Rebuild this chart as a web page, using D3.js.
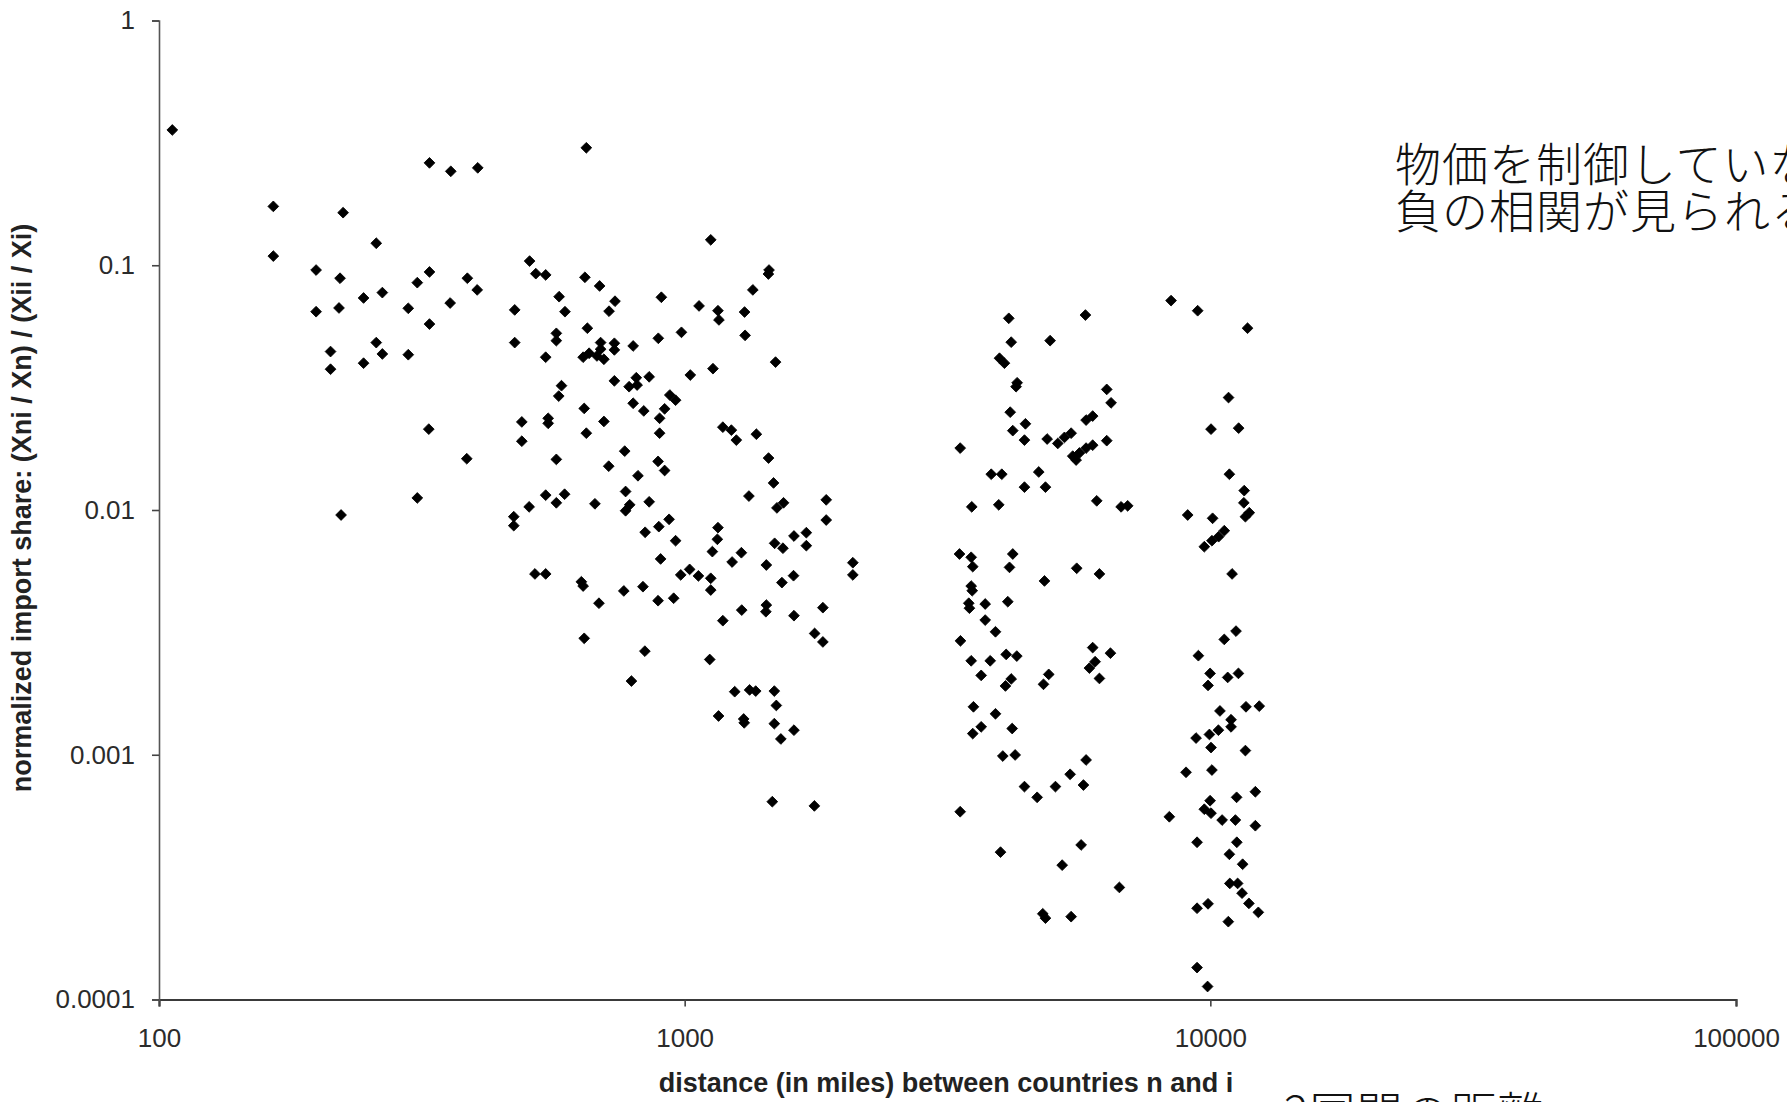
<!DOCTYPE html>
<html>
<head>
<meta charset="utf-8">
<script src="https://cdn.jsdelivr.net/npm/d3@7"></script>
<style>
  html, body { margin: 0; padding: 0; background: #fff; overflow: hidden; }
  svg { display: block; }
</style>
</head>
<body>
<svg id="scatter" width="1787" height="1102"></svg>
<script>
// distance (miles) between countries n and i
const distance = [
  106, 327, 359, 404, 165, 224, 259, 165, 507, 521, 199, 221, 327, 310, 386, 403, 266, 245, 298, 358,
  199, 220, 475, 327, 259, 266, 212, 212, 245, 298, 475, 490, 490, 326, 385, 310, 222, 506, 473, 473,
  650, 1121, 1447, 1443, 544, 646, 689, 577, 592, 737, 718, 903, 1065, 1157, 1162, 1348, 1300, 1303, 653, 570,
  570, 641, 658, 681, 702, 692, 692, 735, 735, 544, 798, 891, 986, 1489, 1132, 1025, 735, 809, 784, 812,
  856, 583, 576, 937, 961, 798, 836, 644, 916, 896, 550, 550, 702, 650, 896, 1182, 1227, 1254, 1369, 570,
  769, 717, 890, 916, 815, 1444, 1476, 1325, 1542, 1498, 1859, 1859, 544, 591, 570, 675, 772, 786, 772, 856,
  934, 893, 841, 961, 1157, 1154, 1129, 1282, 1483, 1538, 1614, 1704, 1704, 900, 1231, 1430, 2089,
  544, 519, 636, 641, 687, 766, 833, 890, 953, 983, 1022, 1062, 1121, 1121, 1611, 1531, 2089, 1182, 1284, 1430,
  1427, 1614, 1832, 1767, 1832, 644, 840, 1116, 792, 1245, 1329, 1365, 1481, 1494, 1160, 1295, 1298, 1481, 1614, 1524,
  1468, 1765,
  8420, 9460, 11770, 4136, 5786, 4180, 4957, 3971, 4058, 4290, 4270, 6352, 6474, 4162, 4449, 4209, 4430, 4893, 5973, 5803,
  5435, 5278, 5126, 5973, 5803, 5636, 5473, 5555, 6352, 3343, 3830, 4011, 4716, 4430, 4857, 3517, 3958, 6080, 6765, 6962,
  10830, 10030, 11320, 10870, 11600, 11580, 11860, 11660, 9056, 10100, 10630, 10370, 10070, 9740, 3333, 3508, 4209,
  3532, 4149, 5569, 6152, 4836, 3508, 3524, 3471, 3481, 3730, 4118, 3730, 3902, 3347, 3508, 3813, 4089, 4284, 3665, 4180,
  4076, 4927, 4815, 5973, 6456, 6037, 5888, 6152, 3543, 3902, 3665, 3532, 4198, 4029, 4253, 5803, 5411, 5736, 5074, 4430,
  4683, 3343, 3989, 5678, 5226, 6714, 4800, 4857, 5435,
  11000, 11190, 10630, 9490, 9990, 9900, 10790, 11310, 10430, 11690, 12390, 10950, 10950, 10360, 9960, 9394, 10030, 11660, 8990, 10070,
  12180, 11220, 9990, 9740, 10030, 10530, 11160, 12180, 8356, 9435, 11230, 10870, 11520, 10890, 11270, 11490, 11840, 12340, 9435, 9900,
  10820, 9435, 9880
];

// normalized import share: (Xni / Xn) / (Xii / Xi)
const share = [
  0.357, 0.262, 0.242, 0.250, 0.174, 0.164, 0.123, 0.109, 0.104, 0.0924, 0.0956, 0.0885, 0.0939, 0.0849, 0.0885, 0.0793, 0.0773, 0.0735, 0.0667, 0.0701,
  0.0646, 0.0669, 0.0657, 0.0575, 0.0483, 0.0434, 0.0444, 0.0376, 0.0398, 0.0431, 0.0483, 0.0229, 0.0191, 0.0214, 0.0162, 0.0112, 0.00954, 0.0103, 0.00939, 0.00863,
  0.302, 0.127, 0.0956, 0.0921, 0.0913, 0.0893, 0.0823, 0.0744, 0.0646, 0.0713, 0.0649, 0.0740, 0.0682, 0.0652, 0.0598, 0.0793, 0.0644, 0.0517, 0.0553, 0.0527,
  0.0492, 0.0421, 0.0437, 0.0426, 0.0413, 0.0483, 0.0454, 0.0480, 0.0451, 0.0421, 0.0468, 0.0503, 0.0532, 0.0402, 0.0378, 0.0356, 0.0337, 0.0347, 0.0319, 0.0324,
  0.0350, 0.0322, 0.0292, 0.0295, 0.0281, 0.0273, 0.0254, 0.0260, 0.0259, 0.0237, 0.0237, 0.0226, 0.0230, 0.0206, 0.0206, 0.0218, 0.0212, 0.0193, 0.0204, 0.0161,
  0.0174, 0.0151, 0.0158, 0.0145, 0.0138, 0.0163, 0.0129, 0.0114, 0.0107, 0.0102, 0.0110, 0.0091, 0.0115, 0.0116, 0.0107, 0.0106, 0.0119, 0.0105, 0.00993, 0.0108,
  0.00916, 0.00855, 0.00811, 0.00749, 0.00847, 0.00759, 0.00676, 0.00669, 0.00731, 0.00698, 0.00783, 0.00808, 0.00715, 0.00631, 0.00613, 0.00596, 0.00609,
  0.00548, 0.00548, 0.00509, 0.00489, 0.00416, 0.00467, 0.00486, 0.00426, 0.00436, 0.00543, 0.00572, 0.00538, 0.00526, 0.00471, 0.00539, 0.00505, 0.00543, 0.00353, 0.00390, 0.00409,
  0.00384, 0.00370, 0.00399, 0.00313, 0.00289, 0.00299, 0.00265, 0.00245, 0.00200, 0.00181, 0.00184, 0.00182, 0.00182, 0.00159, 0.00144, 0.00140, 0.00135, 0.00134, 0.00126, 0.00116,
  0.000643, 0.000618,
  0.0717, 0.0652, 0.0553, 0.0607, 0.0626, 0.0485, 0.0492, 0.0417, 0.0398, 0.0331, 0.0319, 0.0311, 0.0274, 0.0251, 0.0225, 0.0211, 0.0193, 0.0195, 0.0242, 0.0233,
  0.0206, 0.0198, 0.0187, 0.0184, 0.0179, 0.0171, 0.0166, 0.0160, 0.0192, 0.0179, 0.0140, 0.0140, 0.0143, 0.0124, 0.0124, 0.0103, 0.0105, 0.0109, 0.0103, 0.0104,
  0.0288, 0.0214, 0.0216, 0.0140, 0.0120, 0.0107, 0.00975, 0.00939, 0.00954, 0.00925, 0.00823, 0.00778, 0.00749, 0.00708, 0.00661, 0.00641, 0.00661,
  0.00587, 0.00583, 0.00578, 0.00548, 0.00513, 0.00489, 0.00468, 0.00416, 0.00397, 0.00413, 0.00422, 0.00355, 0.00318, 0.00292, 0.00242, 0.00242, 0.00257, 0.00253, 0.00211, 0.00204,
  0.00191, 0.00213, 0.00194, 0.00274, 0.00260, 0.00240, 0.00226, 0.00205, 0.00157, 0.00147, 0.00130, 0.00122, 0.00128, 0.000988, 0.000998, 0.000952, 0.000832, 0.000752, 0.000741, 0.000741,
  0.000670, 0.000585, 0.000400, 0.000428, 0.000354, 0.000287, 0.000224, 0.000215, 0.000218,
  0.00548, 0.00320, 0.00296, 0.00254, 0.00215, 0.00192, 0.00207, 0.00215, 0.00151, 0.00157, 0.00158, 0.00139, 0.00130, 0.00126, 0.00121, 0.00117, 0.00107, 0.00104, 0.000848, 0.000866,
  0.000706, 0.000670, 0.000649, 0.000599, 0.000577, 0.000541, 0.000541, 0.000513, 0.000558, 0.000439, 0.000439, 0.000392, 0.000357, 0.000298, 0.000298, 0.000272, 0.000247, 0.000227, 0.000236, 0.000246,
  0.000208, 0.000135, 0.000113
];

const xTicks = [100, 1000, 10000, 100000];
const xTickLabels = ["100", "1000", "10000", "100000"];
const yTicks = [1, 0.1, 0.01, 0.001, 0.0001];
const yTickLabels = ["1", "0.1", "0.01", "0.001", "0.0001"];

const xTitle = "distance (in miles) between countries n and i";
const yTitle = "normalized import share: (Xni / Xn) / (Xii / Xi)";
const noteLines = ["物価を制御していなくても", "負の相関が見られる"];
const bottomNote = "2国間の距離";

// layout
const width = 1787;
const height = 1102;
const margin = { top: 20.5, right: 51, bottom: 102.5, left: 159 };
const innerWidth = width - margin.left - margin.right;
const innerHeight = height - margin.top - margin.bottom;

const svg = d3.select("#scatter");
svg.append("rect").attr("width", width).attr("height", height).attr("fill", "#fff");

const g = svg.append("g")
    .attr("transform", `translate(${margin.left},${margin.top})`);

const x = d3.scaleLog().domain([100, 100000]).range([0, innerWidth]);
const y = d3.scaleLog().domain([0.0001, 1]).range([innerHeight, 0]);

const labelFont = "'Liberation Sans', Arial, Helvetica, sans-serif";

// x axis
const xAxis = g.append("g")
    .attr("class", "x-axis")
    .attr("transform", `translate(0,${innerHeight})`)
    .call(d3.axisBottom(x).tickValues(xTicks).tickFormat((d, i) => xTickLabels[i]).tickSize(7).tickPadding(22));

// y axis
const yAxis = g.append("g")
    .attr("class", "y-axis")
    .call(d3.axisLeft(y).tickValues(yTicks).tickFormat((d, i) => yTickLabels[i]).tickSize(7).tickPadding(17));

xAxis.select(".domain").attr("stroke", "#3a3a3a").attr("stroke-width", 2.2);
yAxis.select(".domain").attr("stroke", "#555").attr("stroke-width", 1.6);
g.selectAll(".tick line").attr("stroke", "#444").attr("stroke-width", 1.6);
g.selectAll(".tick text")
    .attr("font-family", labelFont)
    .attr("font-size", "26px")
    .attr("fill", "#2b2b2b");

// points
const points = distance.map((d, i) => ({ d: d, s: share[i] }));

g.selectAll("path.pt")
    .data(points)
    .enter().append("path")
    .attr("class", "pt")
    .attr("transform", p => `translate(${x(p.d)},${y(p.s)}) rotate(45)`)
    .attr("d", d3.symbol(d3.symbolSquare, 58))
    .attr("fill", "#000")
    .attr("stroke", "#000")
    .attr("stroke-width", 0.8)
    .attr("stroke-linejoin", "round");

// axis titles
svg.append("text")
    .attr("class", "x-label")
    .attr("text-anchor", "middle")
    .attr("x", 946)
    .attr("y", 1092)
    .attr("font-family", labelFont)
    .attr("font-weight", "bold")
    .attr("font-size", "27px")
    .attr("fill", "#222")
    .text(xTitle);

svg.append("text")
    .attr("class", "y-label")
    .attr("text-anchor", "middle")
    .attr("transform", "translate(31,508) rotate(-90)")
    .attr("font-family", labelFont)
    .attr("font-weight", "bold")
    .attr("font-size", "27px")
    .attr("fill", "#222")
    .text(yTitle);

// japanese notes (run off the right and bottom edges)
const jpFont = "'Noto Sans CJK JP', 'Noto Sans CJK SC', sans-serif";

svg.append("g").selectAll("text")
    .data(noteLines)
    .enter().append("text")
    .attr("x", 1395)
    .attr("y", (d, i) => 181 + i * 47)
    .attr("font-family", jpFont)
    .attr("font-weight", 300)
    .attr("font-size", "46px")
    .attr("letter-spacing", "1px")
    .attr("fill", "#111")
    .text(d => d);

svg.append("text")
    .attr("x", 1284)
    .attr("y", 1130)
    .attr("font-family", jpFont)
    .attr("font-weight", 300)
    .attr("font-size", "46px")
    .attr("letter-spacing", "1px")
    .attr("fill", "#111")
    .text(bottomNote);
</script>
</body>
</html>
